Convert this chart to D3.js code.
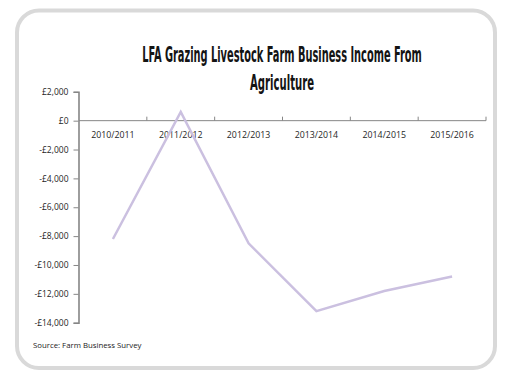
<!DOCTYPE html>
<html>
<head>
<meta charset="utf-8">
<script src="https://cdn.jsdelivr.net/npm/d3@7"></script>
<style>
  html, body { margin: 0; padding: 0; background: #ffffff; }
  svg { display: block; }
</style>
</head>
<body>
<svg id="chart" width="505" height="372"></svg>
<script>
// Farm Business Income from agriculture, LFA grazing livestock farms (£ per farm)
const years = ["2010/2011", "2011/2012", "2012/2013", "2013/2014", "2014/2015", "2015/2016"];
const income = [-8200, 600, -8500, -13200, -11800, -10800];
const yTicks = [2000, 0, -2000, -4000, -6000, -8000, -10000, -12000, -14000];
const titleLines = ["LFA Grazing Livestock Farm Business Income From", "Agriculture"];
const sourceNote = "Source: Farm Business Survey";

const svg = d3.select("#chart");

// rounded panel border
svg.append("rect")
  .attr("x", 17).attr("y", 10.5)
  .attr("width", 478).attr("height", 357.5)
  .attr("rx", 22).attr("ry", 22)
  .attr("fill", "#ffffff")
  .attr("stroke", "#d9d9d9")
  .attr("stroke-width", 4);

const x = d3.scaleBand().domain(years).range([79, 486]).padding(0);
const y = d3.scaleLinear().domain([-14000, 2000]).range([322.7, 91.8]);

const fmt = d3.format(",");
const money = v => (v < 0 ? "-£" : "£") + fmt(Math.abs(v));

// title: condensed heavy face, squeezed horizontally to its target width
const titleFont = "'DejaVu Sans Condensed', 'Liberation Sans Narrow', sans-serif";
const titleWidths = [280, 64];
const titleBase = [62, 89.5];
titleLines.forEach((t, i) => {
  const g = svg.append("g");
  const txt = g.append("text")
    .attr("x", 0).attr("y", 0)
    .attr("text-anchor", "middle")
    .attr("font-family", titleFont)
    .attr("font-weight", "bold")
    .attr("font-size", 20.5)
    .attr("fill", "#141414")
    .text(t);
  const w = txt.node().getComputedTextLength();
  g.attr("transform", `translate(282,${titleBase[i]}) scale(${titleWidths[i] / w},1)`);
});

const labelFont = "'Open Sans', 'Noto Sans', sans-serif";

// y axis
const yAxis = svg.append("g")
  .attr("transform", "translate(78.5,0)")
  .call(d3.axisLeft(y).tickValues(yTicks).tickFormat(money).tickSize(5).tickPadding(5));
yAxis.select(".domain").attr("stroke", "#868686").attr("stroke-width", 1.6);
yAxis.selectAll(".tick line").attr("stroke", "#868686").attr("stroke-width", 1);
yAxis.selectAll(".tick text")
  .attr("font-family", labelFont)
  .attr("font-size", 8.5)
  .attr("fill", "#262626");

// x axis along zero with ticks at category boundaries
const xAxisG = svg.append("g").attr("transform", `translate(0,${y(0)})`);
xAxisG.append("line")
  .attr("x1", x.range()[0]).attr("x2", x.range()[1])
  .attr("y1", 0).attr("y2", 0)
  .attr("stroke", "#868686").attr("stroke-width", 1);
const bounds = years.map(d => x(d)).concat([x.range()[1]]);
xAxisG.selectAll("line.tk").data(bounds.slice(1)).join("line")
  .attr("class", "tk")
  .attr("x1", d => d).attr("x2", d => d)
  .attr("y1", -4).attr("y2", 0)
  .attr("stroke", "#868686").attr("stroke-width", 1);
xAxisG.selectAll("text").data(years).join("text")
  .attr("x", d => x(d) + x.bandwidth() / 2)
  .attr("y", 17.5)
  .attr("text-anchor", "middle")
  .attr("font-family", labelFont)
  .attr("font-size", 8.8)
  .attr("fill", "#262626")
  .text(d => d);

// income line
const line = d3.line()
  .x((d, i) => x(years[i]) + x.bandwidth() / 2)
  .y(d => y(d));
svg.append("path")
  .datum(income)
  .attr("d", line)
  .attr("fill", "none")
  .attr("stroke", "#cbc0e0")
  .attr("stroke-width", 2.5)
  .attr("stroke-linejoin", "miter");

// source note
svg.append("text")
  .attr("x", 33).attr("y", 348)
  .attr("font-family", labelFont)
  .attr("font-size", 7.8)
  .attr("fill", "#1a1a1a")
  .text(sourceNote);
</script>
</body>
</html>
